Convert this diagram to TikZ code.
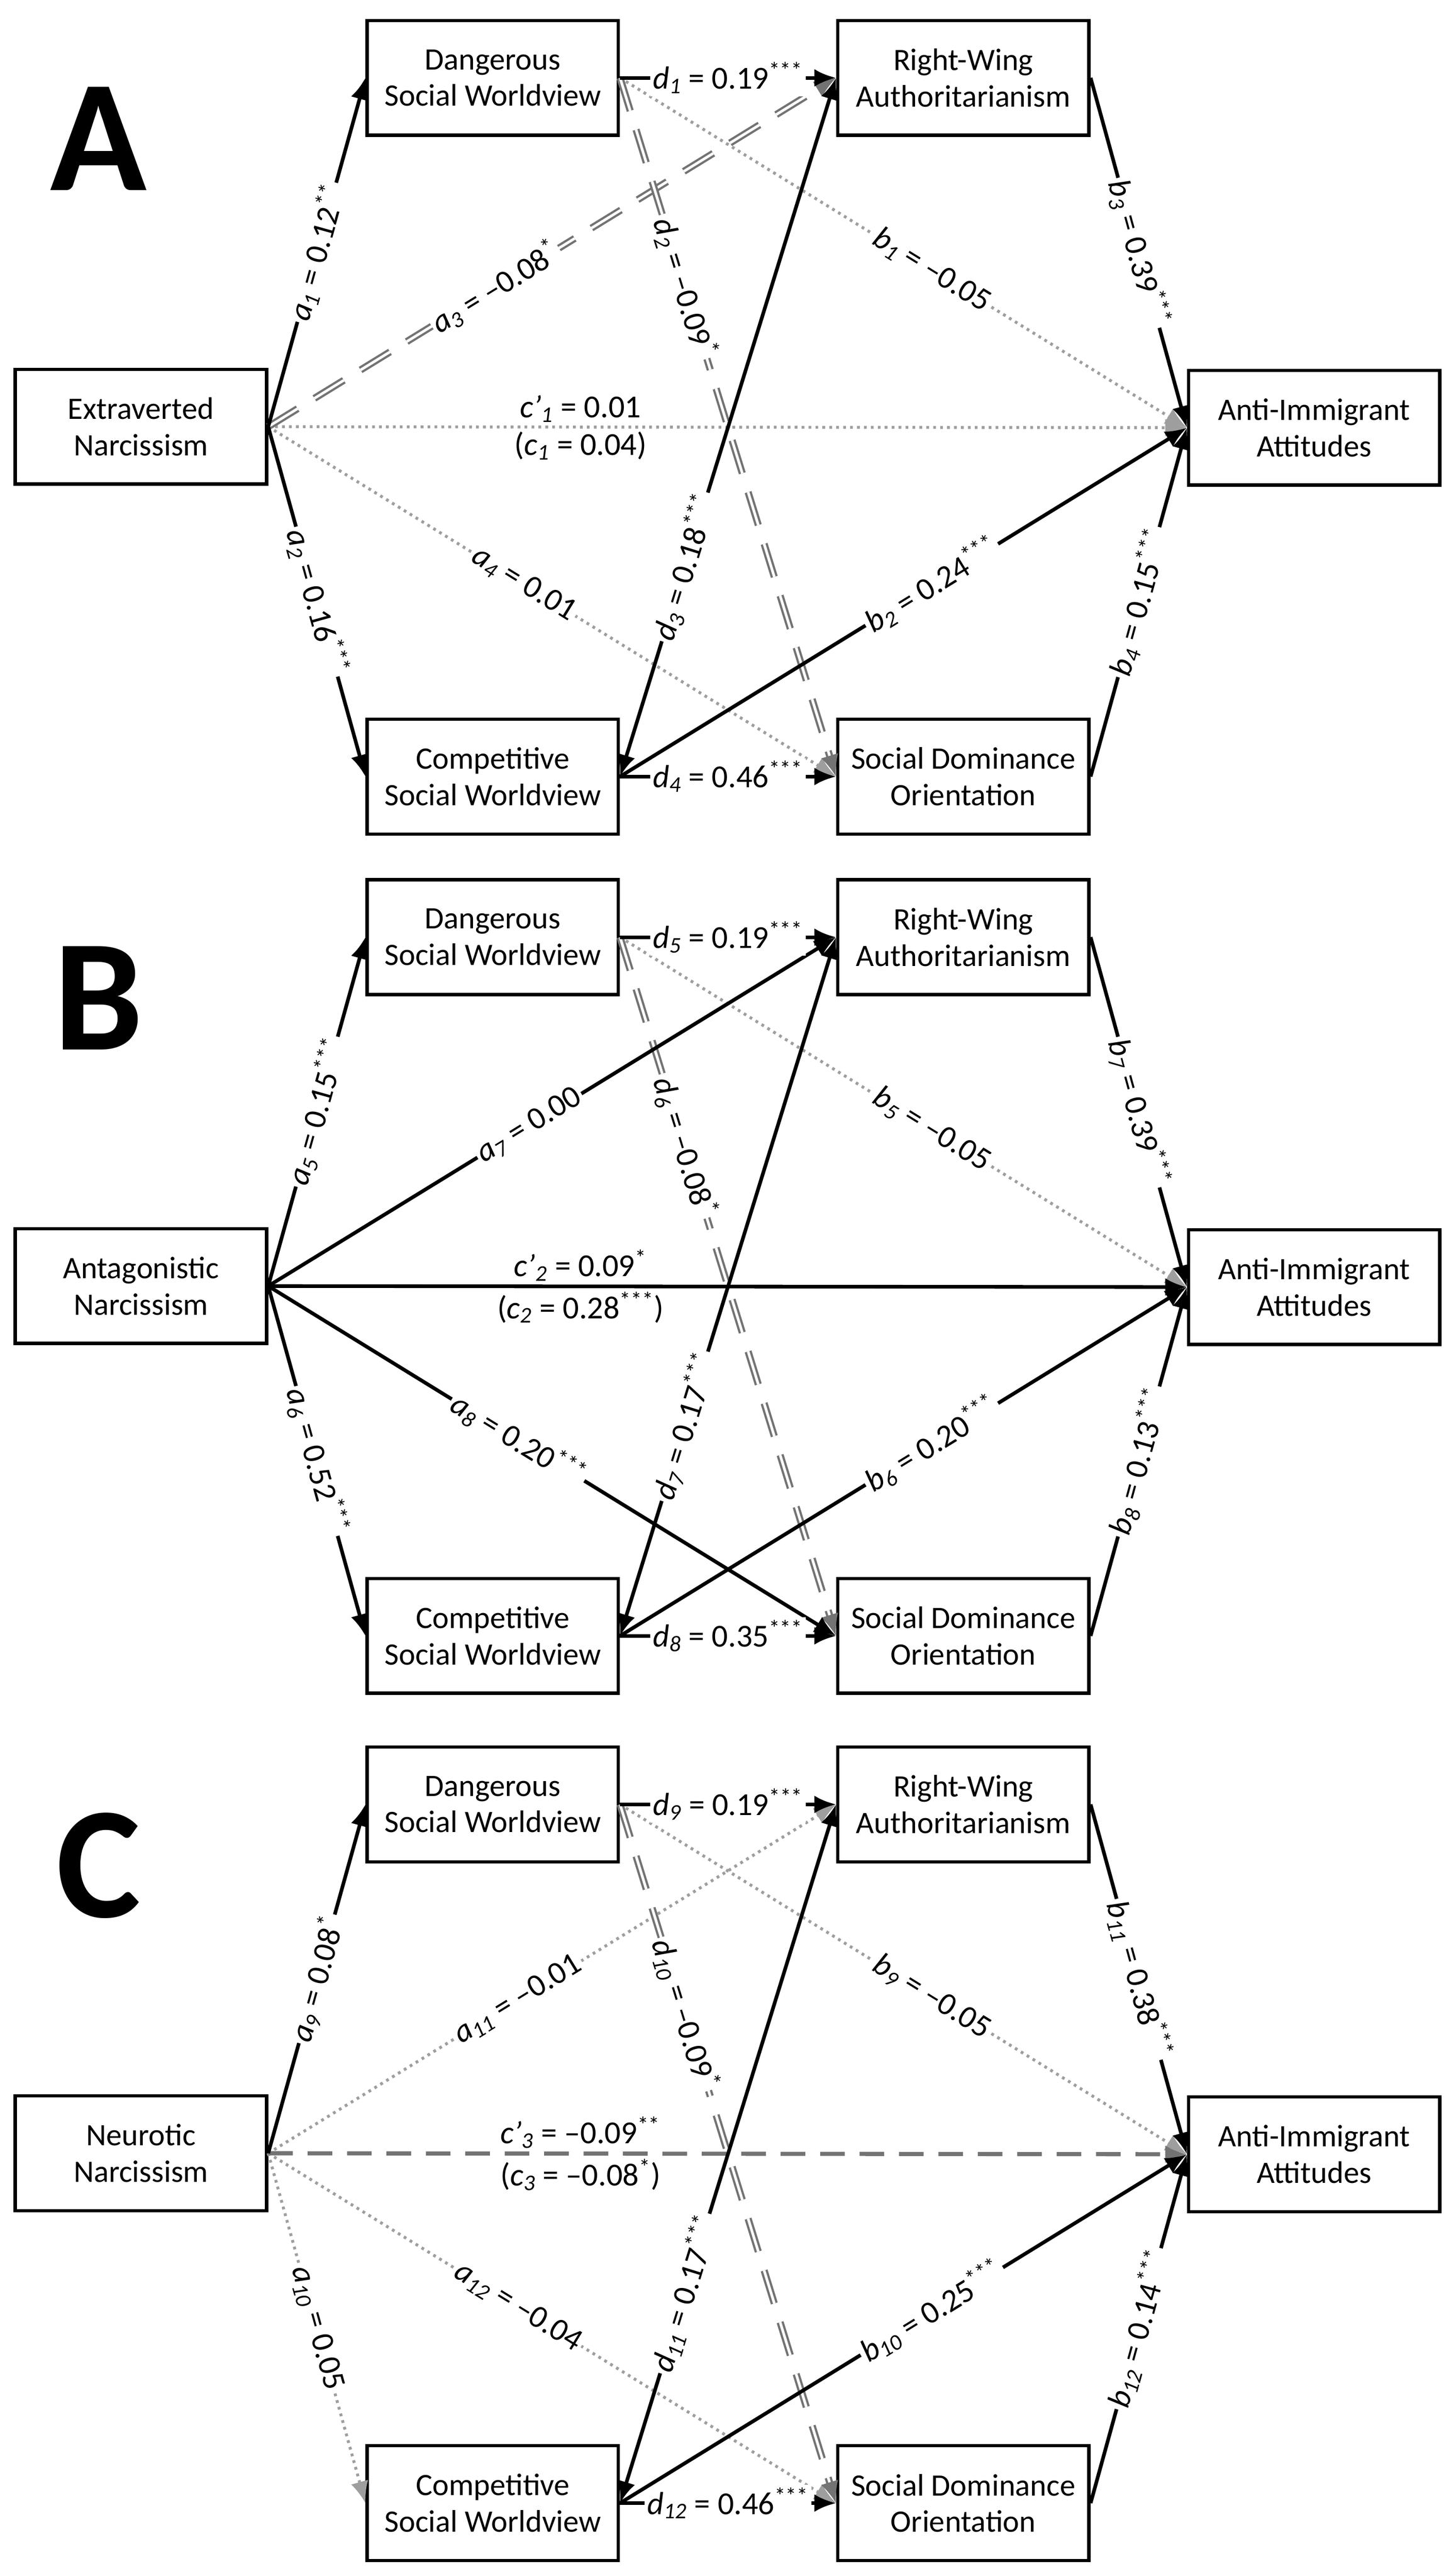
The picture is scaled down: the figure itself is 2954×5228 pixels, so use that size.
\documentclass[tikz,border=0pt]{standalone}
\usepackage{fontspec}
\setmainfont{Carlito}
\usetikzlibrary{arrows.meta}
\tikzset{
 box/.style={draw, line width=1.9pt, minimum width=51mm, minimum height=23.3mm, align=center, font=\fontsize{18}{21}\selectfont, inner sep=0pt, fill=white},
 lett/.style={font=\fontsize{92}{92}\bfseries\selectfont},
 lbl/.style={sloped, fill=white, inner sep=1.5pt, font=\fontsize{18.5}{21}\selectfont},
 lblf/.style={font=\fontsize{18.5}{21}\selectfont, inner sep=2pt},
 tipb/.tip={Latex[length=4.4mm,width=3.6mm]},
 sol/.style={line width=2.1pt, -tipb},
 both/.style={line width=2.1pt, tipb-tipb},
 dot/.style={draw=black!38, line width=1.7pt, dash pattern=on 1.6pt off 2.4pt, -tipb},
 dd/.style={draw=black!55, double=white, line width=1.3pt, double distance=1.5pt, dash pattern=on 7mm off 4mm, -tipb},
 dsh/.style={draw=black!55, line width=2.4pt, dash pattern=on 5mm off 3mm, -tipb},
}
\newcommand\lb[3]{\textit{#1}\textsubscript{\textit{#2}} = #3}
\newcommand\st[1]{\textsuperscript{#1}}
\newcommand\E[5]{\draw[#1] (#2) -- node[lbl,pos=#4]{#5} (#3);}
\newcommand\mkpanel[4]{%
 \node[lett] (#1L) at (200,{282+#2}) {#3};
 \node[box] (#1D) at (1000,{158+#2}) {Dangerous\\Social Worldview};
 \node[box] (#1X) at (286,{866+#2}) {#4};
 \node[box] (#1C) at (1000,{1576+#2}) {Competitive\\Social Worldview};
 \node[box] (#1R) at (1955,{158+#2}) {Right-Wing\\Authoritarianism};
 \node[box] (#1I) at (2667,{868+#2}) {Anti-Immigrant\\Attitudes};
 \node[box] (#1S) at (1955,{1576+#2}) {Social Dominance\\Orientation};
}
\begin{document}
\begin{tikzpicture}[x=0.1mm,y=-0.1mm]
\useasboundingbox (0,0) rectangle (2954,5228);
% ---------- Panel A
\mkpanel{A}{0}{A}{Extraverted\\Narcissism}
\draw[dot] (AX.east) -- node[pos=0.34,above,lblf]{\textit{c’}\textsubscript{\textit{1}} = 0.01} node[pos=0.34,below,lblf]{(\textit{c}\textsubscript{\textit{1}} = 0.04)} (AI.west);
\E{dot}{AX.east}{AS.west}{0.45}{\lb{a}{4}{0.01}}
\E{dot}{AD.east}{AI.west}{0.55}{\lb{b}{1}{–0.05}}
\E{dd}{AX.east}{AR.west}{0.4}{\lb{a}{3}{–0.08\st{*}}}
\E{dd}{AD.east}{AS.west}{0.3}{\lb{d}{2}{–0.09\st{*}}}
\E{sol}{AX.east}{AD.west}{0.5}{\lb{a}{1}{0.12\st{**}}}
\E{sol}{AX.east}{AC.west}{0.5}{\lb{a}{2}{0.16\st{***}}}
\E{sol}{AD.east}{AR.west}{0.5}{\lb{d}{1}{0.19\st{***}}}
\E{both}{AC.east}{AR.west}{0.3}{\lb{d}{3}{0.18\st{***}}}
\E{sol}{AC.east}{AS.west}{0.5}{\lb{d}{4}{0.46\st{***}}}
\E{sol}{AC.east}{AI.west}{0.55}{\lb{b}{2}{0.24\st{***}}}
\E{sol}{AR.east}{AI.west}{0.5}{\lb{b}{3}{0.39\st{***}}}
\E{sol}{AS.east}{AI.west}{0.5}{\lb{b}{4}{0.15\st{***}}}
% ---------- Panel B
\mkpanel{B}{1744}{B}{Antagonistic\\Narcissism}
\E{dot}{BD.east}{BI.west}{0.55}{\lb{b}{5}{–0.05}}
\E{dd}{BD.east}{BS.west}{0.3}{\lb{d}{6}{–0.08\st{*}}}
\draw[sol] (BX.east) -- node[pos=0.34,above,lblf]{\textit{c’}\textsubscript{\textit{2}} = 0.09\st{*}} node[pos=0.34,below,lblf]{(\textit{c}\textsubscript{\textit{2}} = 0.28\st{***})} (BI.west);
\E{sol}{BX.east}{BD.west}{0.5}{\lb{a}{5}{0.15\st{***}}}
\E{sol}{BX.east}{BC.west}{0.5}{\lb{a}{6}{0.52\st{***}}}
\E{sol}{BX.east}{BR.west}{0.46}{\lb{a}{7}{0.00}}
\E{sol}{BX.east}{BS.west}{0.44}{\lb{a}{8}{0.20\st{***}}}
\E{sol}{BD.east}{BR.west}{0.5}{\lb{d}{5}{0.19\st{***}}}
\E{both}{BC.east}{BR.west}{0.3}{\lb{d}{7}{0.17\st{***}}}
\E{sol}{BC.east}{BS.west}{0.5}{\lb{d}{8}{0.35\st{***}}}
\E{sol}{BC.east}{BI.west}{0.55}{\lb{b}{6}{0.20\st{***}}}
\E{sol}{BR.east}{BI.west}{0.5}{\lb{b}{7}{0.39\st{***}}}
\E{sol}{BS.east}{BI.west}{0.5}{\lb{b}{8}{0.13\st{***}}}
% ---------- Panel C
\mkpanel{C}{3504}{C}{Neurotic\\Narcissism}
\E{dot}{CX.east}{CC.west}{0.5}{\lb{a}{10}{0.05}}
\E{dot}{CX.east}{CR.west}{0.44}{\lb{a}{11}{–0.01}}
\E{dot}{CX.east}{CS.west}{0.44}{\lb{a}{12}{–0.04}}
\E{dot}{CD.east}{CI.west}{0.55}{\lb{b}{9}{–0.05}}
\draw[dsh] (CX.east) -- node[pos=0.34,above,lblf]{\textit{c’}\textsubscript{\textit{3}} = –0.09\st{**}} node[pos=0.34,below,lblf]{(\textit{c}\textsubscript{\textit{3}} = –0.08\st{*})} (CI.west);
\E{dd}{CD.east}{CS.west}{0.3}{\lb{d}{10}{–0.09\st{*}}}
\E{sol}{CX.east}{CD.west}{0.5}{\lb{a}{9}{0.08\st{*}}}
\E{sol}{CD.east}{CR.west}{0.5}{\lb{d}{9}{0.19\st{***}}}
\E{both}{CC.east}{CR.west}{0.3}{\lb{d}{11}{0.17\st{***}}}
\E{sol}{CC.east}{CS.west}{0.5}{\lb{d}{12}{0.46\st{***}}}
\E{sol}{CC.east}{CI.west}{0.55}{\lb{b}{10}{0.25\st{***}}}
\E{sol}{CR.east}{CI.west}{0.5}{\lb{b}{11}{0.38\st{***}}}
\E{sol}{CS.east}{CI.west}{0.5}{\lb{b}{12}{0.14\st{***}}}
\end{tikzpicture}
\end{document}
